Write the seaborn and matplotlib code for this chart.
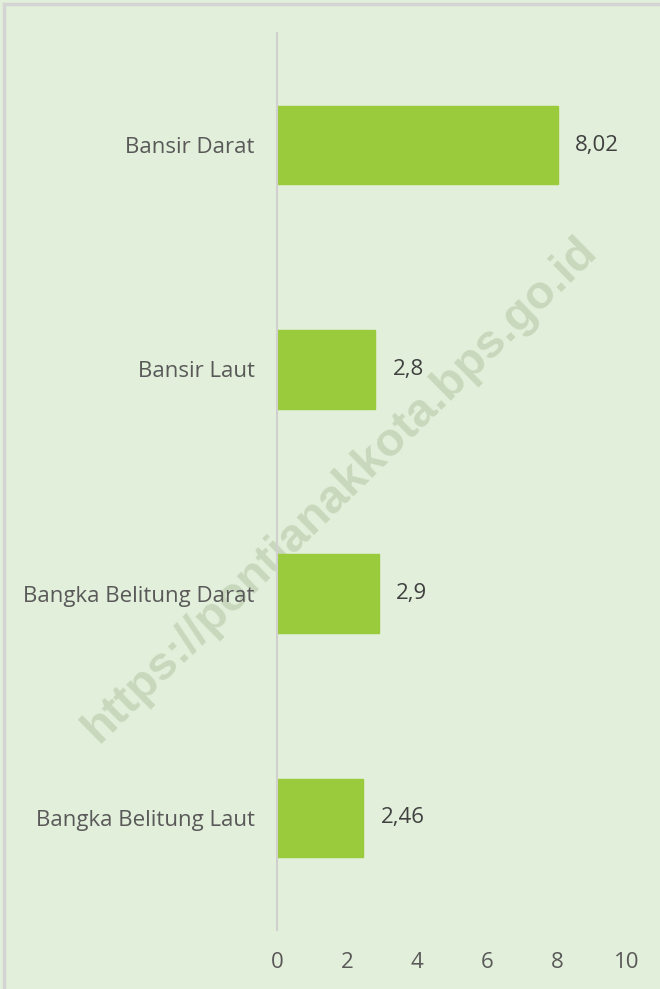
import matplotlib
matplotlib.use("Agg")
import matplotlib.pyplot as plt
import seaborn as sns
import pandas as pd
from matplotlib.patches import Rectangle

categories = ["Bansir Darat", "Bansir Laut", "Bangka Belitung Darat", "Bangka Belitung Laut"]
values = [8.02, 2.8, 2.9, 2.46]
value_labels = ["8,02", "2,8", "2,9", "2,46"]
x_ticks = [0, 2, 4, 6, 8, 10]

bg = "#E2EFDA"
bar_color = "#9ACB3C"

sns.set_theme(style="white")
plt.rcParams["font.family"] = ["Open Sans", "DejaVu Sans"]

fig = plt.figure(figsize=(6.6, 9.89), dpi=100, facecolor=bg)
W, H = 660, 989
ax = fig.add_axes([277 / W, 1 - 930 / H, 350 / W, 897 / H])
ax.set_facecolor("none")

df = pd.DataFrame({"cat": categories, "val": values})
sns.barplot(data=df, y="cat", x="val", orient="h", color=bar_color,
            saturation=1, width=0.35, ax=ax, edgecolor=bar_color)

ax.set_xlim(0, 10)
ax.set_ylim(3.5, -0.5)
ax.set_xticks(x_ticks)
ax.set_xticklabels([str(t) for t in x_ticks])
ax.set_xlabel("")
ax.set_ylabel("")
for s in ["top", "right", "bottom"]:
    ax.spines[s].set_visible(False)
ax.spines["left"].set_color("#D0D0D0")
ax.spines["left"].set_linewidth(1.5)
ax.tick_params(axis="both", length=0, labelsize=16, colors="#595959")
ax.tick_params(axis="x", pad=16)
ax.tick_params(axis="y", pad=16)

for i, (v, lab) in enumerate(zip(values, value_labels)):
    ax.text(v + 0.5, i, lab, va="center", ha="left", fontsize=16, color="#404040")

# border at top/left
fig.patches.append(Rectangle((4 / W, -0.1), 1.2, 1 - 4 / H + 0.1, transform=fig.transFigure,
                             fill=False, edgecolor="#D4D4D4", linewidth=2.5, zorder=0))

# watermark
fig.text(340 / W, 1 - 490 / H, "https://pontianakkota.bps.go.id", rotation=44.5,
         ha="center", va="center", fontsize=34, fontweight="bold",
         color="#C8D8BC", family=["Liberation Sans", "DejaVu Sans"], zorder=-1)

fig.savefig("out.png", dpi=100, facecolor=bg)
